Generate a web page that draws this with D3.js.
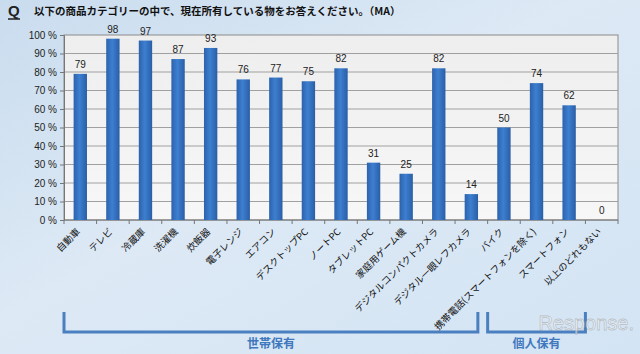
<!DOCTYPE html>
<html>
<head>
<meta charset="utf-8">
<script src="https://cdn.jsdelivr.net/npm/d3@7"></script>
<style>
body { margin: 0; }
svg { display: block; font-family: "Noto Sans CJK JP", "Noto Sans", sans-serif; }
</style>
</head>
<body>
<div id="wrapper"></div>
<script>
const categories = ["自動車", "テレビ", "冷蔵庫", "洗濯機", "炊飯器", "電子レンジ", "エアコン", "デスクトップPC", "ノートPC", "タブレットPC", "家庭用ゲーム機", "デジタルコンパクトカメラ", "デジタル一眼レフカメラ", "バイク", "携帯電話(スマートフォンを除く)", "スマートフォン", "以上のどれもない"];
const values = [79, 98, 97, 87, 93, 76, 77, 75, 82, 31, 25, 82, 14, 50, 74, 62, 0];
const yTicks = [0, 10, 20, 30, 40, 50, 60, 70, 80, 90, 100];
const groups = [
  {name: "世帯保有", from: 0, to: 12},
  {name: "個人保有", from: 13, to: 15}
];
const title = "以下の商品カテゴリーの中で、現在所有している物をお答えください。（MA）";

let dimensions = {
  width: 640,
  height: 354,
  margin: {top: 35, right: 22, bottom: 134, left: 64},
};
dimensions.boundedWidth = dimensions.width - dimensions.margin.left - dimensions.margin.right;
dimensions.boundedHeight = dimensions.height - dimensions.margin.top - dimensions.margin.bottom;

const svg = d3.select("#wrapper").append("svg")
  .attr("width", dimensions.width)
  .attr("height", dimensions.height);

const defs = svg.append("defs");
const bg = defs.append("linearGradient").attr("id", "bg")
  .attr("x1", 0).attr("y1", 0).attr("x2", 1).attr("y2", 1);
bg.append("stop").attr("offset", "0%").attr("stop-color", "#c9dcee");
bg.append("stop").attr("offset", "45%").attr("stop-color", "#dde9f5");
bg.append("stop").attr("offset", "100%").attr("stop-color", "#d3e4f4");
const barGrad = defs.append("linearGradient").attr("id", "bar")
  .attr("x1", 0).attr("y1", 0).attr("x2", 1).attr("y2", 0);
barGrad.append("stop").attr("offset", "0%").attr("stop-color", "#2c62ad");
barGrad.append("stop").attr("offset", "45%").attr("stop-color", "#3d7fd0");
barGrad.append("stop").attr("offset", "100%").attr("stop-color", "#2a5ea6");
const plotGrad = defs.append("linearGradient").attr("id", "plot")
  .attr("x1", 0).attr("y1", 0).attr("x2", 0).attr("y2", 1);
plotGrad.append("stop").attr("offset", "0%").attr("stop-color", "#eeeeee");
plotGrad.append("stop").attr("offset", "100%").attr("stop-color", "#f7f7f7");

svg.append("rect").attr("width", dimensions.width).attr("height", dimensions.height).attr("fill", "url(#bg)");

// title
svg.append("text").attr("x", 8).attr("y", 16)
  .attr("font-size", 15).attr("font-weight", "bold").attr("fill", "#222")
  .attr("font-family", "Liberation Sans, Arial, sans-serif")
  .text("Q");
svg.append("line").attr("x1", 8).attr("x2", 20).attr("y1", 19).attr("y2", 19)
  .attr("stroke", "#222").attr("stroke-width", 1.5);
svg.append("text").attr("x", 34).attr("y", 15)
  .attr("font-size", 10.5).attr("font-weight", "bold").attr("fill", "#111")
  .text(title);

const bounds = svg.append("g")
  .attr("transform", `translate(${dimensions.margin.left},${dimensions.margin.top})`);

const xScale = d3.scaleBand()
  .domain(categories)
  .range([0, dimensions.boundedWidth])
  .paddingInner(0.59)
  .paddingOuter(0.295);
const yScale = d3.scaleLinear()
  .domain([0, 100])
  .range([dimensions.boundedHeight, 0]);

bounds.append("rect")
  .attr("width", dimensions.boundedWidth)
  .attr("height", dimensions.boundedHeight)
  .attr("fill", "url(#plot)")
  .attr("stroke", "#8a8a8a");

bounds.selectAll(".grid").data(yTicks.slice(1, -1)).join("line")
  .attr("class", "grid")
  .attr("x1", 0).attr("x2", dimensions.boundedWidth)
  .attr("y1", d => yScale(d)).attr("y2", d => yScale(d))
  .attr("stroke", "#a0a0a0").attr("stroke-width", 1);

const yAxis = bounds.append("g")
  .call(d3.axisLeft(yScale).tickValues(yTicks).tickSize(4).tickFormat(d => d + " %"));
yAxis.select(".domain").attr("stroke", "#777");
yAxis.selectAll(".tick line").attr("stroke", "#777");
yAxis.selectAll("text").attr("font-size", 10).attr("fill", "#222")
  .attr("font-family", "Liberation Sans, Arial, sans-serif");

const step = xScale.step();
const center = i => xScale(categories[i]) + xScale.bandwidth() / 2;

const xAxis = bounds.append("g")
  .attr("transform", `translate(0,${dimensions.boundedHeight})`);
xAxis.append("line").attr("x1", 0).attr("x2", dimensions.boundedWidth)
  .attr("stroke", "#777");
xAxis.selectAll(".xtick").data(d3.range(categories.length + 1)).join("line")
  .attr("class", "xtick")
  .attr("x1", i => i * step)
  .attr("x2", i => i * step)
  .attr("y1", 0).attr("y2", 4)
  .attr("stroke", "#777");

bounds.selectAll(".bar").data(values).join("rect")
  .attr("class", "bar")
  .attr("x", (d, i) => xScale(categories[i]))
  .attr("width", xScale.bandwidth())
  .attr("y", d => yScale(d))
  .attr("height", d => dimensions.boundedHeight - yScale(d))
  .attr("fill", "url(#bar)");

bounds.selectAll(".val").data(values).join("text")
  .attr("class", "val")
  .attr("x", (d, i) => center(i))
  .attr("y", d => yScale(d) - 6)
  .attr("text-anchor", "middle")
  .attr("font-size", 10).attr("fill", "#222")
  .attr("font-family", "Liberation Sans, Arial, sans-serif")
  .text(d => d);

bounds.selectAll(".xlab").data(categories).join("text")
  .attr("class", "xlab")
  .attr("transform", d => `translate(${xScale(d) + xScale.bandwidth() / 2 - 2},${dimensions.boundedHeight + 10}) rotate(-45)`)
  .attr("text-anchor", "end")
  .attr("dy", "0.35em")
  .attr("font-size", 9.5).attr("fill", "#111")
  .text(d => d);

// group brackets
const bracketColor = "#4a7fc0";
const bracketTop = 312 - dimensions.margin.top;
const bracketBottom = 332 - dimensions.margin.top;
groups.forEach(g => {
  const left = g.from === 0 ? 0 : center(g.from) - step * 0.5;
  const right = g.from === 0 ? center(g.to) + step * 0.2 : center(g.to) + step * 0.5;
  bounds.append("path")
    .attr("d", `M${left},${bracketTop} V${bracketBottom} H${right} V${bracketTop}`)
    .attr("fill", "none")
    .attr("stroke", bracketColor)
    .attr("stroke-width", 3);
  bounds.append("text")
    .attr("x", (left + right) / 2)
    .attr("y", 348 - dimensions.margin.top)
    .attr("text-anchor", "middle")
    .attr("font-size", 12).attr("font-weight", "bold")
    .attr("fill", "#3f78bd")
    .text(g.name);
});

// watermark
svg.append("text").attr("x", 634).attr("y", 330)
  .attr("text-anchor", "end")
  .attr("font-size", 20)
  .attr("font-family", "Liberation Sans, Arial, sans-serif")
  .attr("fill", "#ffffff").attr("fill-opacity", 0.55)
  .attr("stroke", "#8a8a8a").attr("stroke-opacity", 0.45).attr("stroke-width", 0.8)
  .text("Response.");
</script>
</body>
</html>
